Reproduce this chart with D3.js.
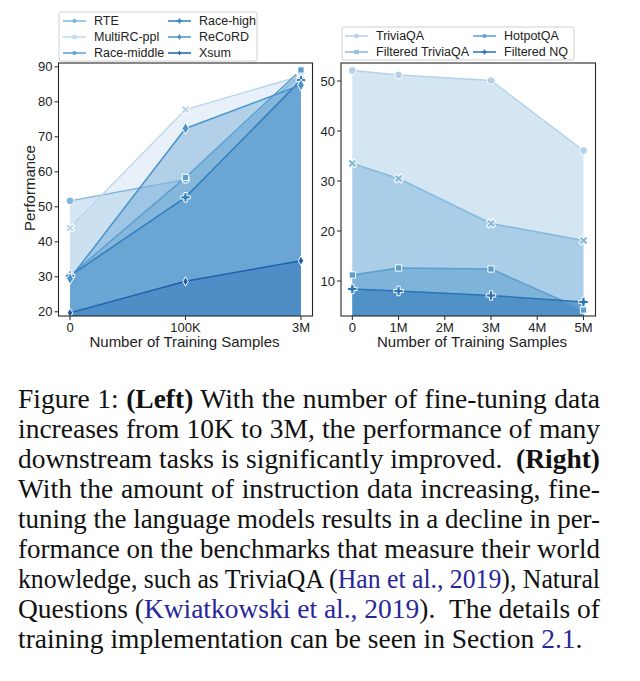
<!DOCTYPE html>
<html lang="en">
  <head>
    <meta charset="UTF-8" />
    <title>Figure 1</title>
    <script src="https://d3js.org/d3.v7.min.js"></script>
    <style>
      body {
        margin: 0;
        background: #fff;
        width: 640px;
        height: 681px;
        position: relative;
        overflow: hidden;
      }
      svg {
        position: absolute;
        left: 0;
        top: 0;
        font-family: "Liberation Sans", Arial, sans-serif;
      }
      .caption {
        position: absolute;
        left: 18px;
        top: 384px;
        width: 582px;
        font-family: "Liberation Serif", "Times New Roman", serif;
        font-size: 27.5px;
        line-height: 30px;
        color: #111;
      }
      .caption span.l {
        display: block;
        white-space: nowrap;
        text-align: justify;
        text-align-last: justify;
        transform-origin: 0 0;
      }
      .caption span.last {
        text-align-last: left;
      }
      .caption .ref {
        color: #27279a;
      }
    </style>
  </head>
  <body>
    <svg id="chart" width="640" height="370"></svg>
    <div class="caption">
      <span class="l">Figure 1: <b>(Left)</b> With the number of fine-tuning data</span>
      <span class="l">increases from 10K to 3M, the performance of many</span>
      <span class="l">downstream tasks is significantly improved. &nbsp;<b>(Right)</b></span>
      <span class="l">With the amount of instruction data increasing, fine-</span>
      <span class="l">tuning the language models results in a decline in per-</span>
      <span class="l">formance on the benchmarks that measure their world</span>
      <span class="l">knowledge, such as TriviaQA (<span class="ref">Han et al., 2019</span>), Natural</span>
      <span class="l">Questions (<span class="ref">Kwiatkowski et al., 2019</span>). &nbsp;The details of</span>
      <span class="l last">training implementation can be seen in Section <span class="ref">2.1</span>.</span>
    </div>
    <script>
      // left panel data
      const leftCats = ["0", "100K", "3M"];
      const leftNames = ["RTE", "MultiRC-ppl", "Race-middle", "Race-high", "ReCoRD", "Xsum"];
      const rte = [51.7, 57.8, 88.0];
      const multirc = [44.0, 77.8, 87.4];
      const raceMiddle = [30.3, 58.4, 89.1];
      const raceHigh = [30.3, 52.7, 86.2];
      const record = [29.5, 72.4, 84.8];
      const xsum = [19.7, 28.7, 34.6];
      const leftTicks = [20, 30, 40, 50, 60, 70, 80, 90];

      // right panel data (x in millions of samples)
      const rightX = [0, 1, 3, 5];
      const rightNames = ["TriviaQA", "Filtered TriviaQA", "HotpotQA", "Filtered NQ"];
      const triviaqa = [52.1, 51.2, 50.1, 36.1];
      const filteredTriviaqa = [33.5, 30.5, 21.5, 18.1];
      const hotpotqa = [11.2, 12.6, 12.4, 4.2];
      const filteredNq = [8.4, 8.0, 7.1, 5.8];
      const rightXTicks = [0, 1, 2, 3, 4, 5];
      const rightXLabels = ["0", "1M", "2M", "3M", "4M", "5M"];
      const rightTicks = [10, 20, 30, 40, 50];

      const svg = d3.select("#chart");

      const leftColors = ["#80b7dc", "#bcd7ed", "#5a9fd0", "#2f7fc0", "#4a93cb", "#1c62ad"];
      const leftMarks = ["circle", "x", "square", "plus", "diamond", "sdiamond"];
      const rightColors = ["#b3d2ea", "#86badd", "#5b9ed0", "#2a75b8"];
      const rightMarks = ["circle", "x", "square", "plus"];

      function symbolPath(kind) {
        if (kind === "circle") return d3.symbol(d3.symbolCircle, 48)();
        if (kind === "square") return d3.symbol(d3.symbolSquare, 40)();
        if (kind === "plus" || kind === "x") return d3.symbol(d3.symbolCross, 50)();
        if (kind === "diamond") return d3.symbol(d3.symbolDiamond, 40)();
        return d3.symbol(d3.symbolDiamond, 26)();
      }

      function drawMarker(g, kind, x, y, color, small) {
        const rot = kind === "x" ? 45 : 0;
        const s = small ? 0.55 : 1;
        g.append("path")
          .attr("d", symbolPath(kind))
          .attr("transform", `translate(${x},${y}) rotate(${rot}) scale(${s})`)
          .attr("fill", color)
          .attr("stroke", small ? "none" : "#fff")
          .attr("stroke-width", 1);
      }

      function panel(opts) {
        const { x, y, series, colors, marks, xs, frame, id, alpha } = opts;
        const g = svg.append("g");

        g.append("clipPath")
          .attr("id", id)
          .append("rect")
          .attr("x", frame.left)
          .attr("y", frame.top)
          .attr("width", frame.right - frame.left)
          .attr("height", frame.bottom - frame.top);

        const plot = g.append("g").attr("clip-path", `url(#${id})`);
        const y0 = y.domain()[0];

        series.forEach((vals, i) => {
          const area = d3
            .area()
            .x((d, j) => x(xs[j]))
            .y0(y(y0))
            .y1((d) => y(d));
          plot.append("path")
            .attr("d", area(vals))
            .attr("fill", colors[i])
            .attr("fill-opacity", alpha);
        });

        series.forEach((vals, i) => {
          const line = d3
            .line()
            .x((d, j) => x(xs[j]))
            .y((d) => y(d));
          plot.append("path")
            .attr("d", line(vals))
            .attr("fill", "none")
            .attr("stroke", colors[i])
            .attr("stroke-width", 1.5);
        });

        series.forEach((vals, i) => {
          vals.forEach((v, j) => drawMarker(g, marks[i], x(xs[j]), y(v), colors[i]));
        });

        g.append("rect")
          .attr("x", frame.left)
          .attr("y", frame.top)
          .attr("width", frame.right - frame.left)
          .attr("height", frame.bottom - frame.top)
          .attr("fill", "none")
          .attr("stroke", "#262626")
          .attr("stroke-width", 1.1);
        return g;
      }

      function axes(g, x, y, frame, xTicks, xLabels, yTicks) {
        const xa = g.append("g").attr("transform", `translate(0,${frame.bottom})`);
        xTicks.forEach((t, i) => {
          xa.append("line").attr("x1", x(t)).attr("x2", x(t)).attr("y1", 0).attr("y2", 4)
            .attr("stroke", "#262626");
          xa.append("text").attr("x", x(t)).attr("y", 15.5).attr("text-anchor", "middle")
            .attr("font-size", 13).attr("fill", "#222").text(xLabels[i]);
        });
        const ya = g.append("g").attr("transform", `translate(${frame.left},0)`);
        yTicks.forEach((t) => {
          ya.append("line").attr("x1", -4).attr("x2", 0).attr("y1", y(t)).attr("y2", y(t))
            .attr("stroke", "#262626");
          ya.append("text").attr("x", -6).attr("y", y(t)).attr("dy", "0.35em")
            .attr("text-anchor", "end").attr("font-size", 13).attr("fill", "#222").text(t);
        });
      }

      function legend(box, cols, names, colors, marks) {
        const g = svg.append("g");
        g.append("rect")
          .attr("x", box.x).attr("y", box.y).attr("width", box.w).attr("height", box.h)
          .attr("rx", 2).attr("fill", "#fff").attr("stroke", "#cfcfcf");
        names.forEach((n, i) => {
          const c = Math.floor(i / box.rows);
          const r = i % box.rows;
          const hx = cols[c];
          const yy = box.y + 9 + r * 16;
          g.append("line").attr("x1", hx).attr("x2", hx + 23).attr("y1", yy).attr("y2", yy)
            .attr("stroke", colors[i]).attr("stroke-width", 1.5);
          drawMarker(g, marks[i], hx + 11.5, yy, colors[i], true);
          g.append("text").attr("x", hx + 31).attr("y", yy).attr("dy", "0.35em")
            .attr("font-size", 12.5).attr("fill", "#222").text(n);
        });
      }

      // left panel
      const fL = { left: 58.5, right: 312.5, top: 63, bottom: 316 };
      const xL = d3.scalePoint().domain(leftCats).range([fL.left, fL.right]).padding(0.1);
      const yL = d3.scaleLinear().domain([18.8, 91.1]).range([fL.bottom, fL.top]);
      const gL = panel({
        x: xL, y: yL, xs: leftCats, frame: fL, id: "clipL", alpha: 0.34,
        series: [rte, multirc, raceMiddle, raceHigh, record, xsum],
        colors: leftColors, marks: leftMarks,
      });
      axes(gL, xL, yL, fL, leftCats, leftCats, leftTicks);
      gL.append("text").attr("x", (fL.left + fL.right) / 2 - 1).attr("y", 347)
        .attr("text-anchor", "middle").attr("font-size", 15).attr("fill", "#222")
        .text("Number of Training Samples");
      gL.append("text").attr("transform", "translate(35,188) rotate(-90)")
        .attr("text-anchor", "middle").attr("font-size", 15).attr("fill", "#222")
        .text("Performance");
      legend({ x: 59, y: 12, w: 198, h: 49, rows: 3 }, [63, 168], leftNames, leftColors, leftMarks);

      // right panel
      const fR = { left: 341, right: 595.5, top: 63, bottom: 316 };
      const xR = d3.scaleLinear().domain([-0.245, 5.26]).range([fR.left, fR.right]);
      const yR = d3.scaleLinear().domain([3.0, 53.6]).range([fR.bottom, fR.top]);
      const gR = panel({
        x: xR, y: yR, xs: rightX, frame: fR, id: "clipR", alpha: 0.55,
        series: [triviaqa, filteredTriviaqa, hotpotqa, filteredNq],
        colors: rightColors, marks: rightMarks,
      });
      axes(gR, xR, yR, fR, rightXTicks, rightXLabels, rightTicks);
      gR.append("text").attr("x", 472).attr("y", 347)
        .attr("text-anchor", "middle").attr("font-size", 15).attr("fill", "#222")
        .text("Number of Training Samples");
      legend({ x: 342, y: 27, w: 232, h: 33, rows: 2 }, [345, 473], rightNames, rightColors, rightMarks);

      // squeeze caption lines that are too long for the column
      const colW = 582;
      d3.selectAll(".caption span.l").each(function () {
        const r = document.createRange();
        r.selectNodeContents(this);
        const w = r.getBoundingClientRect().width;
        if (w > colW + 0.5) {
          this.style.width = w + "px";
          this.style.transform = `scaleX(${colW / w})`;
        }
      });
    </script>
  </body>
</html>
